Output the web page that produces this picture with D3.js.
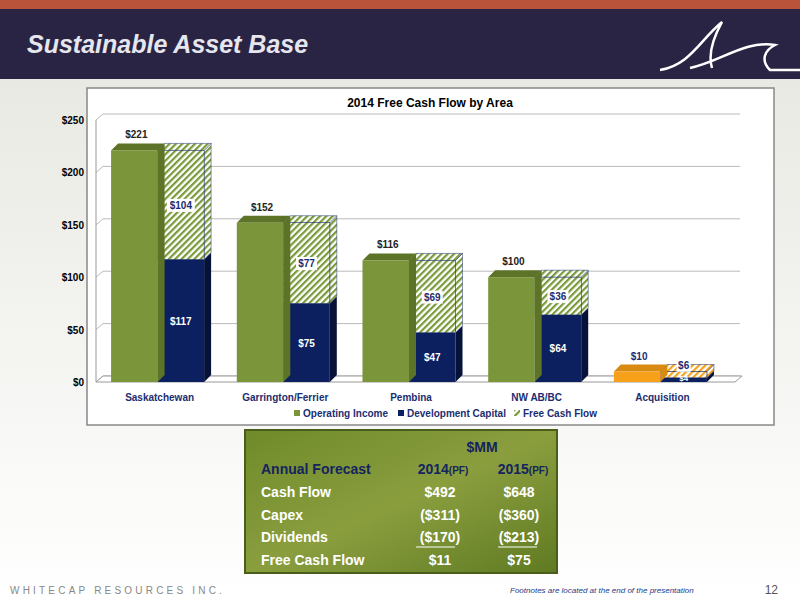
<!DOCTYPE html>
<html><head><meta charset="utf-8">
<script src="https://cdn.jsdelivr.net/npm/d3@7"></script>
<style>body{margin:0;}svg{display:block;font-family:"Liberation Sans",Arial,sans-serif;}</style>
</head><body>
<div id="chart"></div>
<script>
// chart data
var areas = ["Saskatchewan", "Garrington/Ferrier", "Pembina", "NW AB/BC", "Acquisition"];
var operatingIncome = [221, 152, 116, 100, 10];
var devCapital = [117, 75, 47, 64, 4];
var freeCashFlow = [104, 77, 69, 36, 6];
var yTicks = [0, 50, 100, 150, 200, 250];
var legendNames = ["Operating Income", "Development Capital", "Free Cash Flow"];

// table data
var tableRows = ["Cash Flow", "Capex", "Dividends", "Free Cash Flow"];
var forecast2014 = ["$492", "($311)", "($170)", "$11"];
var forecast2015 = ["$648", "($360)", "($213)", "$75"];

var svg = d3.select("#chart").append("svg").attr("width", 800).attr("height", 600);
var defs = svg.append("defs");

var bg = defs.append("linearGradient").attr("id", "bg").attr("x1", 0).attr("y1", 0).attr("x2", 0).attr("y2", 1);
bg.append("stop").attr("offset", "0").attr("stop-color", "#b9bcaa");
bg.append("stop").attr("offset", "0.12").attr("stop-color", "#e8e9e2");
bg.append("stop").attr("offset", "1").attr("stop-color", "#ffffff");

var tg = defs.append("linearGradient").attr("id", "tg").attr("x1", 0).attr("y1", 0).attr("x2", 1).attr("y2", 1);
tg.append("stop").attr("offset", "0").attr("stop-color", "#6f8a2a");
tg.append("stop").attr("offset", "0.5").attr("stop-color", "#8a9e3e");
tg.append("stop").attr("offset", "1").attr("stop-color", "#5f7a22");

function hatch(id, color) {
  var p = defs.append("pattern").attr("id", id).attr("patternUnits", "userSpaceOnUse")
    .attr("width", 4.5).attr("height", 4.5).attr("patternTransform", "rotate(45)");
  p.append("rect").attr("width", 4.5).attr("height", 4.5).attr("fill", "#fff");
  p.append("rect").attr("width", 2.2).attr("height", 4.5).attr("fill", color);
}
hatch("hg", "#7a9a3a");
hatch("ho", "#f5a31c");

// background and header
svg.append("rect").attr("width", 800).attr("height", 600).attr("fill", "url(#bg)");
svg.append("rect").attr("width", 800).attr("height", 9).attr("fill", "#b9543a");
svg.append("rect").attr("y", 9).attr("width", 800).attr("height", 70).attr("fill", "#2a2444");
svg.append("text").attr("x", 27).attr("y", 53).attr("fill", "#e6e6ee")
  .style("font-size", "25px").style("font-weight", "bold").style("font-style", "italic")
  .text("Sustainable Asset Base");
svg.append("path").attr("d", "M660,70 C690,65 700,40 722,22 C712,40 708,55 712,68 M690,68 C720,62 745,40 775,45 C765,50 760,60 770,70 L800,70")
  .attr("fill", "none").attr("stroke", "#fff").attr("stroke-width", 2.5);

// chart box
svg.append("rect").attr("x", 87).attr("y", 88).attr("width", 687).attr("height", 337)
  .attr("fill", "#fff").attr("stroke", "#888").attr("stroke-width", 1.5);
svg.append("text").attr("x", 430).attr("y", 107).attr("text-anchor", "middle")
  .style("font-size", "12px").style("font-weight", "bold").text("2014 Free Cash Flow by Area");

var x = d3.scaleBand().domain(areas).range([96, 722]).paddingInner(0.26).paddingOuter(0.12);
var y = d3.scaleLinear().domain([0, 250]).range([382, 120]);
var bw = x.bandwidth() / 2, dep = 7;

var g = svg.append("g");
// gridlines
g.selectAll(".grid").data(yTicks).enter().append("line")
  .attr("x1", 96).attr("x2", 103).attr("y1", d => y(d)).attr("y2", d => y(d) - 6)
  .attr("stroke", "#bbb").attr("stroke-width", 1);
g.selectAll(".grid2").data(yTicks).enter().append("line")
  .attr("x1", 103).attr("x2", 740).attr("y1", d => y(d) - 6).attr("y2", d => y(d) - 6)
  .attr("stroke", "#bbb");
g.append("line").attr("x1", 96).attr("x2", 96).attr("y1", y(0)).attr("y2", y(250)).attr("stroke", "#999");
g.append("path").attr("d", `M96,${y(0)} L735,${y(0)} L742,${y(0) - 6} L103,${y(0) - 6} Z`)
  .attr("fill", "#fff").attr("stroke", "#999");

g.selectAll(".yl").data(yTicks).enter().append("text")
  .attr("x", 84).attr("y", d => y(d) + 4).attr("text-anchor", "end")
  .style("font-size", "10px").style("font-weight", "bold").text(d => "$" + d);

function box(x0, y0, y1, front, side, top, stroke) {
  g.append("path").attr("d", `M${x0 + bw},${y1} L${x0 + bw + dep},${y1 - dep} L${x0 + bw + dep},${y0 - dep} L${x0 + bw},${y0} Z`)
    .attr("fill", side).attr("stroke", stroke || "none").attr("stroke-width", 0.5);
  g.append("path").attr("d", `M${x0},${y1} L${x0 + dep},${y1 - dep} L${x0 + bw + dep},${y1 - dep} L${x0 + bw},${y1} Z`)
    .attr("fill", top).attr("stroke", stroke || "none").attr("stroke-width", 0.5);
  g.append("rect").attr("x", x0).attr("y", y1).attr("width", bw).attr("height", y0 - y1)
    .attr("fill", front).attr("stroke", stroke || "none").attr("stroke-width", 0.5);
}

areas.forEach(function (a, i) {
  var x0 = x(a), x1 = x0 + bw;
  var acq = i === areas.length - 1;
  var main = acq ? "#f7a01a" : "#7b963a";
  var mainDark = acq ? "#d98a10" : "#5d7428";
  box(x1, y(0), y(devCapital[i]), "#0c1f5e", "#061238", "#1b2d70");
  box(x1, y(devCapital[i]), y(devCapital[i] + freeCashFlow[i]), acq ? "url(#ho)" : "url(#hg)", acq ? "url(#ho)" : "url(#hg)", acq ? "url(#ho)" : "url(#hg)", "#1b2d70");
  box(x0, y(0), y(operatingIncome[i]), main, mainDark, mainDark);

  g.append("text").attr("x", x0 + bw / 2 + 2).attr("y", y(operatingIncome[i]) - 12).attr("text-anchor", "middle")
    .style("font-size", "10px").style("font-weight", "bold").attr("fill", acq ? "#1b2d70" : "#222").text("$" + operatingIncome[i]);
  var cy = acq ? y(devCapital[i]) - 9 : (y(devCapital[i]) + y(devCapital[i] + freeCashFlow[i])) / 2 + 4;
  var t = "$" + freeCashFlow[i];
  g.append("rect").attr("x", x1 + bw / 2 - t.length * 3.5).attr("y", cy - 10).attr("width", t.length * 7).attr("height", 13).attr("fill", "#fff");
  g.append("text").attr("x", x1 + bw / 2).attr("y", cy).attr("text-anchor", "middle")
    .style("font-size", "10px").style("font-weight", "bold").attr("fill", "#1b2d70").text(t);
  g.append("text").attr("x", x1 + bw / 2).attr("y", acq ? y(0) - 1 : (y(0) + y(devCapital[i])) / 2 + 4).attr("text-anchor", "middle")
    .style("font-size", acq ? "8px" : "10px").style("font-weight", "bold").attr("fill", "#fff").text("$" + devCapital[i]);
  g.append("text").attr("x", x0 + bw + 2).attr("y", 401).attr("text-anchor", "middle")
    .style("font-size", "10px").style("font-weight", "bold").attr("fill", "#1b2d70").text(a);
});

// legend
var lx = [294, 398, 514], lc = ["#7b963a", "#0c1f5e", "url(#hg)"];
legendNames.forEach(function (n, i) {
  svg.append("rect").attr("x", lx[i]).attr("y", 410).attr("width", 6).attr("height", 6).attr("fill", lc[i]);
  svg.append("text").attr("x", lx[i] + 9).attr("y", 417).style("font-size", "10px").style("font-weight", "bold")
    .attr("fill", "#1b2d70").text(n);
});

// table
svg.append("rect").attr("x", 245).attr("y", 430).attr("width", 312).attr("height", 143)
  .attr("fill", "url(#tg)").attr("stroke", "#4b5d1a").attr("stroke-width", 2);
var tt = svg.append("g").style("font-size", "14px").style("font-weight", "bold");
tt.append("text").attr("x", 482).attr("y", 452).attr("text-anchor", "middle").attr("fill", "#15245e").text("$MM");
tt.append("text").attr("x", 261).attr("y", 474).attr("fill", "#15245e").text("Annual Forecast");
[["2014", 443], ["2015", 523]].forEach(function (c) {
  var t = tt.append("text").attr("x", c[1]).attr("y", 474).attr("text-anchor", "middle").attr("fill", "#15245e");
  t.append("tspan").text(c[0]);
  t.append("tspan").style("font-size", "10px").text("(PF)");
});
tableRows.forEach(function (r, i) {
  var yy = 497 + i * 22.5;
  tt.append("text").attr("x", 261).attr("y", yy).attr("fill", "#fff").text(r);
  tt.append("text").attr("x", 440).attr("y", yy).attr("text-anchor", "middle").attr("fill", "#fff").text(forecast2014[i]);
  tt.append("text").attr("x", 519).attr("y", yy).attr("text-anchor", "middle").attr("fill", "#fff").text(forecast2015[i]);
});
[[416, 455], [498, 537]].forEach(function (l) {
  svg.append("line").attr("x1", l[0]).attr("x2", l[1]).attr("y1", 547).attr("y2", 547).attr("stroke", "#fff").attr("stroke-width", 1);
});

// footer
svg.append("text").attr("x", 10).attr("y", 594).attr("fill", "#888").style("font-size", "10px")
  .style("letter-spacing", "3.2px").text("WHITECAP RESOURCES INC.");
svg.append("text").attr("x", 510).attr("y", 593).attr("fill", "#1b3a8a").style("font-size", "8px")
  .style("font-style", "italic").text("Footnotes are located at the end of the presentation");
svg.append("text").attr("x", 778).attr("y", 594).attr("text-anchor", "end").attr("fill", "#555")
  .style("font-size", "12px").text("12");
</script>
</body></html>
